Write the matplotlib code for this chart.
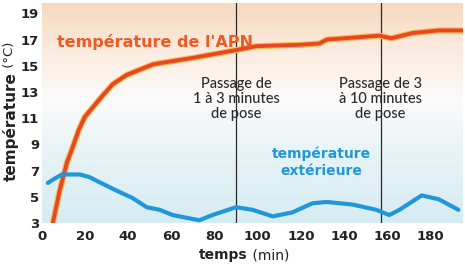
import matplotlib.pyplot as plt
import numpy as np
from matplotlib.colors import LinearSegmentedColormap

# APN temperature (red)
t_apn = [5.1, 8.3, 11.6, 13.9, 17.1, 19.9, 23.5, 27.5, 32.9, 39.3, 45.3, 51.4,
         54.6, 69.9, 90, 99.5, 119, 128.6, 132, 156.4, 162, 171.7, 184, 195]
T_apn = [3.0, 5.5, 7.6, 8.6, 10.1, 11.1, 11.8, 12.6, 13.6, 14.3, 14.7, 15.1,
         15.2, 15.6, 16.2, 16.5, 16.6, 16.7, 17.0, 17.3, 17.1, 17.5, 17.7, 17.7]

# outside temperature (blue)
t_ext = [2.8, 5.1, 9.3, 17.6, 22, 26.8, 34.2, 42, 48.6, 54.6, 60.6, 73, 79,
         90, 97.6, 107, 116, 125.4, 132, 144, 155, 161, 165.7, 176, 184, 193]
T_ext = [6.05, 6.3, 6.7, 6.7, 6.5, 6.1, 5.5, 4.9, 4.2, 4.0, 3.6, 3.2, 3.6,
         4.2, 4.0, 3.5, 3.8, 4.5, 4.6, 4.4, 4.0, 3.6, 4.0, 5.1, 4.8, 4.0]

xticks = [0, 20, 40, 60, 80, 100, 120, 140, 160, 180]
yticks = [3, 5, 7, 9, 11, 13, 15, 17, 19]
changes = [90, 157]
change_labels = ["Passage de\n1 à 3 minutes\nde pose", "Passage de 3\nà 10 minutes\nde pose"]

plt.rcParams['font.family'] = ['DejaVu Sans']

fig = plt.figure(figsize=(4.65, 2.66), dpi=100)
ax = fig.add_axes([0.09, 0.162, 0.905, 0.827])
ax.set_xlim(0, 195)
ax.set_ylim(3, 19.8)

# background gradient: peach on top, white middle, pale blue at the bottom
cmap = LinearSegmentedColormap.from_list(
    "bg", [(0.0, "#d6ecf3"), (0.3, "#e6f3f6"), (0.55, "#fafbfa"), (0.78, "#fbece0"), (1.0, "#f7d9bf")])
grad = np.linspace(0, 1, 256).reshape(-1, 1)
ax.imshow(grad, aspect="auto", cmap=cmap, origin="lower",
          extent=(0, 195, 3, 19.8), zorder=0)

for xc in changes:
    ax.axvline(xc, color="#2a2a2a", lw=0.9, zorder=2)

ax.plot(t_apn, T_apn, color="#f7c04a", lw=4.4, solid_capstyle="round", zorder=3)
ax.plot(t_apn, T_apn, color="#ea4527", lw=2.8, solid_capstyle="round", zorder=4)
ax.plot(t_ext, T_ext, color="#1f97d8", lw=3.0, solid_capstyle="round", zorder=4)

ax.text(7, 16.8, "température de l'APN", color="#ef5a24", fontsize=11.5,
        fontweight="bold", va="center", zorder=5)
ax.text(129.5, 8.8, "température\nextérieure", color="#1f97d8", fontsize=10,
        fontweight="bold", ha="center", va="top", linespacing=1.25, zorder=5)
for xc, lab in zip(changes, change_labels):
    ax.text(xc, 14.15, lab, ha="center", va="top", fontsize=10.5, color="#2b2b2b",
            family="Lato", fontweight="medium", linespacing=1.1, zorder=5)

ax.set_xticks(xticks)
ax.set_yticks(yticks)
ax.tick_params(length=0, labelsize=9.5, colors="#222222")
ax.tick_params(axis="x", pad=5)
ax.tick_params(axis="y", pad=2)
for lab in ax.get_xticklabels() + ax.get_yticklabels():
    lab.set_fontweight("bold")
for s in ax.spines.values():
    s.set_visible(False)

# axis titles: bold word + normal unit
xl = fig.text(199 / 465, 0.015, "temps", fontsize=10, fontweight="bold",
              ha="left", va="bottom", color="#222222")
ax.annotate(" (min)", xy=(1, 0), xycoords=xl, fontsize=10, color="#222222",
            ha="left", va="bottom")
yl = fig.text(0.006, (266 - 181) / 266, "température", fontsize=11, fontweight="bold",
              rotation=90, ha="left", va="bottom", color="#222222")
ax.annotate(" (°C)", xy=(0, 1), xycoords=yl, fontsize=9.5, color="#222222",
            rotation=90, ha="left", va="bottom")

fig.savefig("out.png", dpi=100)
